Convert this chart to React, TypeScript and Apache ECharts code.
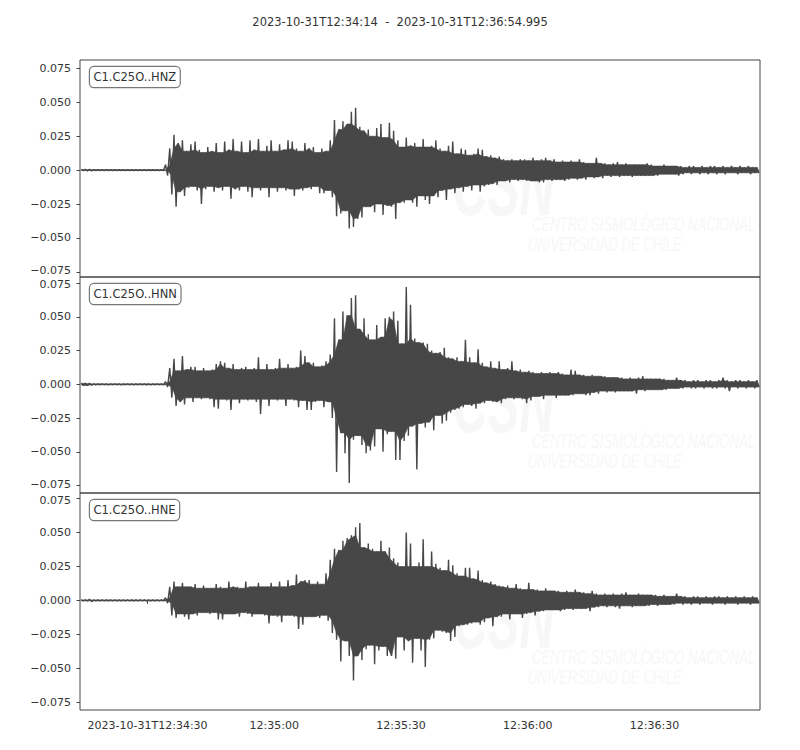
import React, { useEffect, useRef } from "react";
import * as echarts from "echarts";

// ---------------- data ----------------
const TITLE = "2023-10-31T12:34:14  -  2023-10-31T12:36:54.995";
const CHANNELS = ["C1.C25O..HNZ", "C1.C25O..HNN", "C1.C25O..HNE"];
const DURATION = 160.995; // seconds after 12:34:14
const X_TICK_SECONDS = [16, 46, 76, 106, 136];
const X_TICK_LABELS = ["2023-10-31T12:34:30", "12:35:00", "12:35:30", "12:36:00", "12:36:30"];
const Y_TICKS = [-0.075, -0.05, -0.025, 0, 0.025, 0.05, 0.075];
const Y_MINS = [-0.0788, -0.0805, -0.0808];
const Y_MAXS = [0.0812, 0.0795, 0.0792];

// per-second peak (hi) and trough (lo) amplitudes, seconds 0..160
const hnzHi = [0.0003,0.0006,0.0007,0.0003,0.0003,0.0004,0.0003,0.0003,0.0004,0.0003,0.0003,0.0004,0.0003,0.0003,0.0004,0.0003,0.0003,0.0003,0.0004,0.0003,
0.004,0.016,0.026,0.020,0.022,0.014,0.019,0.021,0.015,0.013,0.017,0.014,0.020,0.013,0.021,0.015,0.023,0.014,0.021,0.013,
0.022,0.015,0.023,0.014,0.018,0.022,0.014,0.019,0.015,0.022,0.021,0.016,0.014,0.020,0.016,0.017,0.013,0.016,0.014,0.022,
0.037,0.030,0.036,0.034,0.043,0.046,0.032,0.029,0.030,0.025,0.031,0.034,0.024,0.035,0.029,0.022,0.017,0.024,0.018,0.020,
0.017,0.023,0.017,0.018,0.022,0.016,0.014,0.018,0.021,0.012,0.016,0.015,0.011,0.012,0.016,0.015,0.010,0.011,0.009,0.010,
0.008,0.007,0.008,0.007,0.008,0.008,0.007,0.009,0.007,0.008,0.009,0.007,0.008,0.006,0.007,0.006,0.007,0.006,0.008,0.006,
0.005,0.005,0.009,0.005,0.005,0.004,0.005,0.006,0.004,0.005,0.004,0.004,0.004,0.004,0.005,0.004,0.003,0.003,0.004,0.003,
0.003,0.003,0.003,0.002,0.003,0.003,0.002,0.003,0.002,0.003,0.003,0.002,0.003,0.002,0.003,0.002,0.003,0.002,0.003,0.002,0.002];
const hnzLo = [-0.0003,-0.0006,-0.0006,-0.0003,-0.0003,-0.0003,-0.0004,-0.0003,-0.0003,-0.0004,-0.0003,-0.0003,-0.0004,-0.0003,-0.0003,-0.0003,-0.0004,-0.0003,-0.0003,-0.0004,
-0.004,-0.018,-0.027,-0.016,-0.019,-0.013,-0.012,-0.015,-0.025,-0.014,-0.012,-0.016,-0.013,-0.015,-0.012,-0.021,-0.014,-0.015,-0.012,-0.016,
-0.020,-0.013,-0.015,-0.013,-0.020,-0.013,-0.016,-0.013,-0.015,-0.014,-0.019,-0.014,-0.015,-0.013,-0.014,-0.012,-0.017,-0.017,-0.015,-0.020,
-0.034,-0.032,-0.030,-0.043,-0.042,-0.036,-0.035,-0.027,-0.027,-0.031,-0.025,-0.033,-0.026,-0.027,-0.036,-0.024,-0.024,-0.022,-0.024,-0.027,
-0.019,-0.022,-0.025,-0.019,-0.020,-0.015,-0.022,-0.014,-0.017,-0.013,-0.016,-0.012,-0.015,-0.011,-0.016,-0.012,-0.011,-0.010,-0.011,-0.008,
-0.008,-0.009,-0.007,-0.008,-0.007,-0.008,-0.008,-0.008,-0.009,-0.009,-0.007,-0.008,-0.007,-0.007,-0.008,-0.007,-0.006,-0.007,-0.006,-0.007,
-0.005,-0.006,-0.005,-0.006,-0.004,-0.005,-0.004,-0.005,-0.004,-0.004,-0.005,-0.004,-0.004,-0.004,-0.004,-0.004,-0.004,-0.003,-0.003,-0.003,
-0.003,-0.004,-0.003,-0.002,-0.003,-0.002,-0.003,-0.002,-0.003,-0.002,-0.003,-0.002,-0.003,-0.002,-0.002,-0.003,-0.002,-0.002,-0.003,-0.002,-0.002];

const hnnHi = [0.0007,0.0009,0.0008,0.0003,0.0003,0.0004,0.0003,0.0003,0.0004,0.0003,0.0003,0.0004,0.0003,0.0003,0.0004,0.0003,0.0003,0.0003,0.0004,0.0003,
0.002,0.012,0.019,0.010,0.021,0.011,0.013,0.013,0.010,0.012,0.010,0.011,0.015,0.017,0.016,0.012,0.015,0.011,0.012,0.013,
0.011,0.012,0.020,0.011,0.015,0.011,0.012,0.019,0.012,0.015,0.012,0.013,0.025,0.021,0.016,0.016,0.013,0.014,0.017,0.022,
0.049,0.033,0.054,0.051,0.064,0.066,0.041,0.049,0.037,0.033,0.044,0.035,0.049,0.050,0.054,0.047,0.030,0.072,0.059,0.034,
0.031,0.031,0.030,0.025,0.023,0.024,0.027,0.020,0.019,0.020,0.017,0.033,0.020,0.016,0.026,0.016,0.013,0.017,0.012,0.017,
0.011,0.012,0.017,0.010,0.011,0.009,0.010,0.009,0.008,0.009,0.008,0.009,0.008,0.009,0.008,0.007,0.011,0.010,0.007,0.007,
0.006,0.007,0.006,0.006,0.006,0.005,0.005,0.005,0.005,0.004,0.005,0.004,0.005,0.006,0.004,0.004,0.004,0.004,0.004,0.003,
0.003,0.005,0.003,0.003,0.002,0.003,0.003,0.002,0.003,0.003,0.002,0.003,0.005,0.003,0.002,0.003,0.003,0.002,0.003,0.002,0.003];
const hnnLo = [-0.0008,-0.0009,-0.0007,-0.0003,-0.0003,-0.0003,-0.0004,-0.0003,-0.0003,-0.0004,-0.0003,-0.0003,-0.0004,-0.0003,-0.0003,-0.0003,-0.0004,-0.0003,-0.0003,-0.0004,
-0.002,-0.010,-0.016,-0.013,-0.015,-0.010,-0.013,-0.010,-0.011,-0.010,-0.011,-0.017,-0.018,-0.011,-0.012,-0.019,-0.011,-0.014,-0.011,-0.012,
-0.011,-0.013,-0.022,-0.011,-0.016,-0.011,-0.012,-0.011,-0.016,-0.011,-0.012,-0.017,-0.012,-0.019,-0.019,-0.013,-0.012,-0.017,-0.013,-0.025,
-0.065,-0.036,-0.051,-0.073,-0.041,-0.038,-0.045,-0.051,-0.049,-0.046,-0.033,-0.050,-0.037,-0.035,-0.056,-0.056,-0.042,-0.038,-0.031,-0.063,
-0.029,-0.032,-0.028,-0.034,-0.023,-0.029,-0.027,-0.021,-0.019,-0.018,-0.017,-0.015,-0.016,-0.018,-0.014,-0.014,-0.012,-0.013,-0.013,-0.014,
-0.011,-0.010,-0.011,-0.010,-0.011,-0.014,-0.012,-0.009,-0.009,-0.011,-0.008,-0.008,-0.010,-0.008,-0.008,-0.008,-0.008,-0.007,-0.007,-0.008,
-0.008,-0.006,-0.007,-0.005,-0.006,-0.005,-0.006,-0.005,-0.005,-0.005,-0.005,-0.007,-0.004,-0.005,-0.004,-0.004,-0.004,-0.004,-0.004,-0.003,
-0.003,-0.003,-0.003,-0.002,-0.003,-0.003,-0.002,-0.003,-0.002,-0.003,-0.003,-0.002,-0.003,-0.005,-0.002,-0.003,-0.002,-0.003,-0.002,-0.003,-0.002];

const hneHi = [0.0003,0.0004,0.0008,0.0003,0.0003,0.0004,0.0003,0.0003,0.0004,0.0003,0.0003,0.0004,0.0003,0.0003,0.0004,0.0003,0.0003,0.0003,0.0004,0.0003,
0.002,0.010,0.014,0.010,0.013,0.010,0.010,0.012,0.009,0.011,0.009,0.009,0.012,0.010,0.009,0.014,0.010,0.010,0.009,0.014,
0.010,0.010,0.013,0.010,0.010,0.013,0.010,0.014,0.010,0.015,0.011,0.019,0.014,0.015,0.015,0.012,0.014,0.012,0.020,0.030,
0.038,0.037,0.044,0.046,0.048,0.054,0.057,0.039,0.042,0.038,0.036,0.044,0.036,0.039,0.031,0.028,0.025,0.050,0.042,0.025,
0.028,0.045,0.025,0.036,0.027,0.024,0.022,0.030,0.026,0.020,0.018,0.024,0.024,0.016,0.022,0.015,0.013,0.014,0.012,0.011,
0.010,0.011,0.009,0.012,0.009,0.008,0.013,0.008,0.008,0.007,0.009,0.007,0.007,0.007,0.006,0.007,0.006,0.008,0.006,0.006,
0.005,0.007,0.005,0.004,0.005,0.004,0.005,0.004,0.005,0.006,0.004,0.004,0.005,0.004,0.004,0.004,0.004,0.003,0.004,0.003,
0.003,0.005,0.003,0.003,0.002,0.003,0.003,0.002,0.003,0.002,0.003,0.003,0.002,0.003,0.002,0.003,0.002,0.003,0.002,0.003,0.002];
const hneLo = [-0.0003,-0.0004,-0.0009,-0.0003,-0.0003,-0.0003,-0.0004,-0.0003,-0.0003,-0.0004,-0.0003,-0.0003,-0.0004,-0.0003,-0.0003,-0.0003,-0.0004,-0.0003,-0.0003,-0.0004,
-0.002,-0.011,-0.013,-0.010,-0.012,-0.014,-0.010,-0.011,-0.009,-0.009,-0.010,-0.009,-0.014,-0.014,-0.010,-0.010,-0.010,-0.012,-0.009,-0.010,
-0.012,-0.010,-0.010,-0.011,-0.017,-0.011,-0.012,-0.016,-0.011,-0.011,-0.012,-0.021,-0.018,-0.012,-0.012,-0.012,-0.013,-0.011,-0.015,-0.024,
-0.029,-0.045,-0.030,-0.041,-0.059,-0.041,-0.044,-0.036,-0.033,-0.047,-0.037,-0.034,-0.041,-0.041,-0.043,-0.027,-0.037,-0.030,-0.046,-0.028,
-0.037,-0.049,-0.029,-0.028,-0.022,-0.023,-0.024,-0.030,-0.027,-0.019,-0.018,-0.018,-0.017,-0.016,-0.018,-0.016,-0.013,-0.019,-0.012,-0.012,
-0.010,-0.014,-0.010,-0.010,-0.013,-0.010,-0.009,-0.011,-0.008,-0.008,-0.007,-0.007,-0.007,-0.008,-0.007,-0.006,-0.007,-0.006,-0.006,-0.006,
-0.008,-0.005,-0.005,-0.004,-0.005,-0.004,-0.005,-0.006,-0.004,-0.004,-0.005,-0.004,-0.004,-0.004,-0.004,-0.003,-0.004,-0.003,-0.003,-0.003,
-0.003,-0.002,-0.003,-0.002,-0.003,-0.002,-0.003,-0.002,-0.002,-0.003,-0.002,-0.002,-0.003,-0.002,-0.002,-0.003,-0.002,-0.002,-0.003,-0.002,-0.002];

const TRACES = [
  [hnzHi, hnzLo],
  [hnnHi, hnnLo],
  [hneHi, hneLo],
];

// ---------------- layout / style ----------------
const FONT = "DejaVu Sans";
const INK = "#333";
const FRAME = "#444";
const TRACE_COLOR = "#474747";
const WATERMARK = "#f7f7f7";
const PANEL_TOPS = [60, 277, 493];
const PANEL_HEIGHTS = [217, 216, 217];
const LEFT = 80;
const RIGHT = 40;

// zigzag through each second's peak then trough
function traceData(hi: number[], lo: number[]) {
  const pts: number[][] = [];
  for (let i = 0; i < hi.length; i++) {
    pts.push([i + 0.25, hi[i]]);
    pts.push([i + 0.75, lo[i]]);
  }
  return pts;
}

// dense core of the trace: the smallest excursion among neighbouring seconds
function coreData(vals: number[], offset: number, pick: (a: number, b: number) => number) {
  return vals.map((v, i) => {
    const a = vals[Math.max(0, i - 1)];
    const b = vals[Math.min(vals.length - 1, i + 1)];
    return [i + offset, pick(pick(a, v), b)];
  });
}

function fmtY(v: number) {
  const s = Math.abs(v) < 1e-9 ? "0.000" : v.toFixed(3);
  return s.replace("-", "\u2212");
}

function fmtX(v: number) {
  const k = X_TICK_SECONDS.findIndex((s) => Math.abs(s - v) < 1e-6);
  return k >= 0 ? X_TICK_LABELS[k] : "";
}

const LABEL_TEXT = { fontFamily: FONT, fontSize: 11, color: INK, lineHeight: 10 };

export default function App() {
  const ref = useRef<HTMLDivElement>(null);

  useEffect(() => {
    if (!ref.current) return;
    const chart = echarts.init(ref.current, undefined, { renderer: "svg" });

    const grids = PANEL_TOPS.map((top, i) => ({
      left: LEFT,
      right: RIGHT,
      top,
      height: PANEL_HEIGHTS[i],
      show: true,
      borderColor: FRAME,
      borderWidth: 1,
      backgroundColor: "rgba(0,0,0,0)",
      containLabel: false,
    }));

    const xAxes = PANEL_TOPS.map((_, i) => ({
      type: "value",
      gridIndex: i,
      min: 0,
      max: DURATION,
      axisLine: { show: false },
      splitLine: { show: false },
      axisTick: {
        show: i === 2,
        customValues: X_TICK_SECONDS,
        length: 3.5,
        lineStyle: { color: FRAME, width: 1 },
      },
      axisLabel: {
        show: i === 2,
        customValues: X_TICK_SECONDS,
        formatter: fmtX,
        fontFamily: FONT,
        fontSize: 11,
        color: INK,
        margin: 10,
      },
    }));

    const yAxes = PANEL_TOPS.map((_, i) => ({
      type: "value",
      gridIndex: i,
      min: Y_MINS[i],
      max: Y_MAXS[i],
      axisLine: { show: false },
      splitLine: { show: false },
      axisTick: {
        show: true,
        customValues: Y_TICKS,
        length: 3.5,
        lineStyle: { color: FRAME, width: 1 },
      },
      axisLabel: {
        customValues: Y_TICKS,
        formatter: (v: number) => {
          const s = fmtY(v);
          // nudge the two labels that meet at a panel boundary apart
          if (i < 2 && Math.abs(v + 0.075) < 1e-9) return `{up|${s}}`;
          if (i > 0 && Math.abs(v - 0.075) < 1e-9) return `{down|${s}}`;
          return s;
        },
        ...LABEL_TEXT,
        margin: 9,
        rich: {
          up: { ...LABEL_TEXT, padding: [0, 0, 3, 0] },
          down: { ...LABEL_TEXT, padding: [3, 0, 0, 0] },
        },
      },
    }));

    const series: any[] = [];
    TRACES.forEach(([hi, lo], i) => {
      const upperCore = coreData(hi, 0.25, Math.min);
      const lowerCore = coreData(lo, 0.75, Math.max);
      // solid core band of the trace (one polygon)
      series.push({
        type: "custom",
        xAxisIndex: i,
        yAxisIndex: i,
        silent: true,
        z: 4,
        data: [[0, 0]],
        renderItem: (_params: any, api: any) => {
          const top = upperCore.map((p) => api.coord(p));
          const bottom = lowerCore.map((p) => api.coord(p)).reverse();
          return {
            type: "polygon",
            shape: { points: top.concat(bottom) },
            style: { fill: TRACE_COLOR, stroke: TRACE_COLOR, lineWidth: 0.6 },
          };
        },
      });
      // the oscillating trace itself
      series.push({
        type: "line",
        xAxisIndex: i,
        yAxisIndex: i,
        showSymbol: false,
        symbol: "none",
        silent: true,
        data: traceData(hi, lo),
        lineStyle: { color: TRACE_COLOR, width: 1.4 },
        z: 5,
      });
    });

    const graphics: any[] = [];
    PANEL_TOPS.forEach((top, i) => {
      // faint watermark
      graphics.push({
        type: "text",
        x: 453,
        y: top + 84,
        z: 1,
        silent: true,
        scaleX: 0.57,
        style: {
          text: "CSN",
          font: 'italic bold 84px "Liberation Sans"',
          fill: WATERMARK,
        },
      });
      graphics.push({
        type: "text",
        x: 532,
        y: top + 153,
        z: 1,
        silent: true,
        scaleX: 0.625,
        style: {
          text: "CENTRO SISMOLÓGICO NACIONAL",
          font: 'italic 21px "Liberation Sans"',
          fill: WATERMARK,
        },
      });
      graphics.push({
        type: "text",
        x: 528,
        y: top + 173,
        z: 1,
        silent: true,
        scaleX: 0.625,
        style: {
          text: "UNIVERSIDAD DE CHILE",
          font: 'italic 21px "Liberation Sans"',
          fill: WATERMARK,
        },
      });
      // channel label box
      graphics.push({
        type: "text",
        x: 90,
        y: top + 7,
        z: 20,
        silent: true,
        style: {
          text: CHANNELS[i],
          font: `11.5px "${FONT}"`,
          fill: INK,
          backgroundColor: "#fff",
          borderColor: "#777",
          borderWidth: 1.2,
          borderRadius: 4,
          padding: [4, 3.5, 4, 3.5],
        },
      });
    });

    chart.setOption({
      animation: false,
      backgroundColor: "#fff",
      textStyle: { fontFamily: FONT },
      title: {
        text: TITLE,
        left: "center",
        top: 11,
        textStyle: { fontFamily: FONT, fontSize: 11.5, fontWeight: "normal", color: INK },
      },
      grid: grids,
      xAxis: xAxes,
      yAxis: yAxes,
      series,
      graphic: { elements: graphics },
    });

    return () => chart.dispose();
  }, []);

  return (
    <div
      ref={ref}
      style={{ position: "absolute", left: 0, top: 0, width: 800, height: 750 }}
    />
  );
}
